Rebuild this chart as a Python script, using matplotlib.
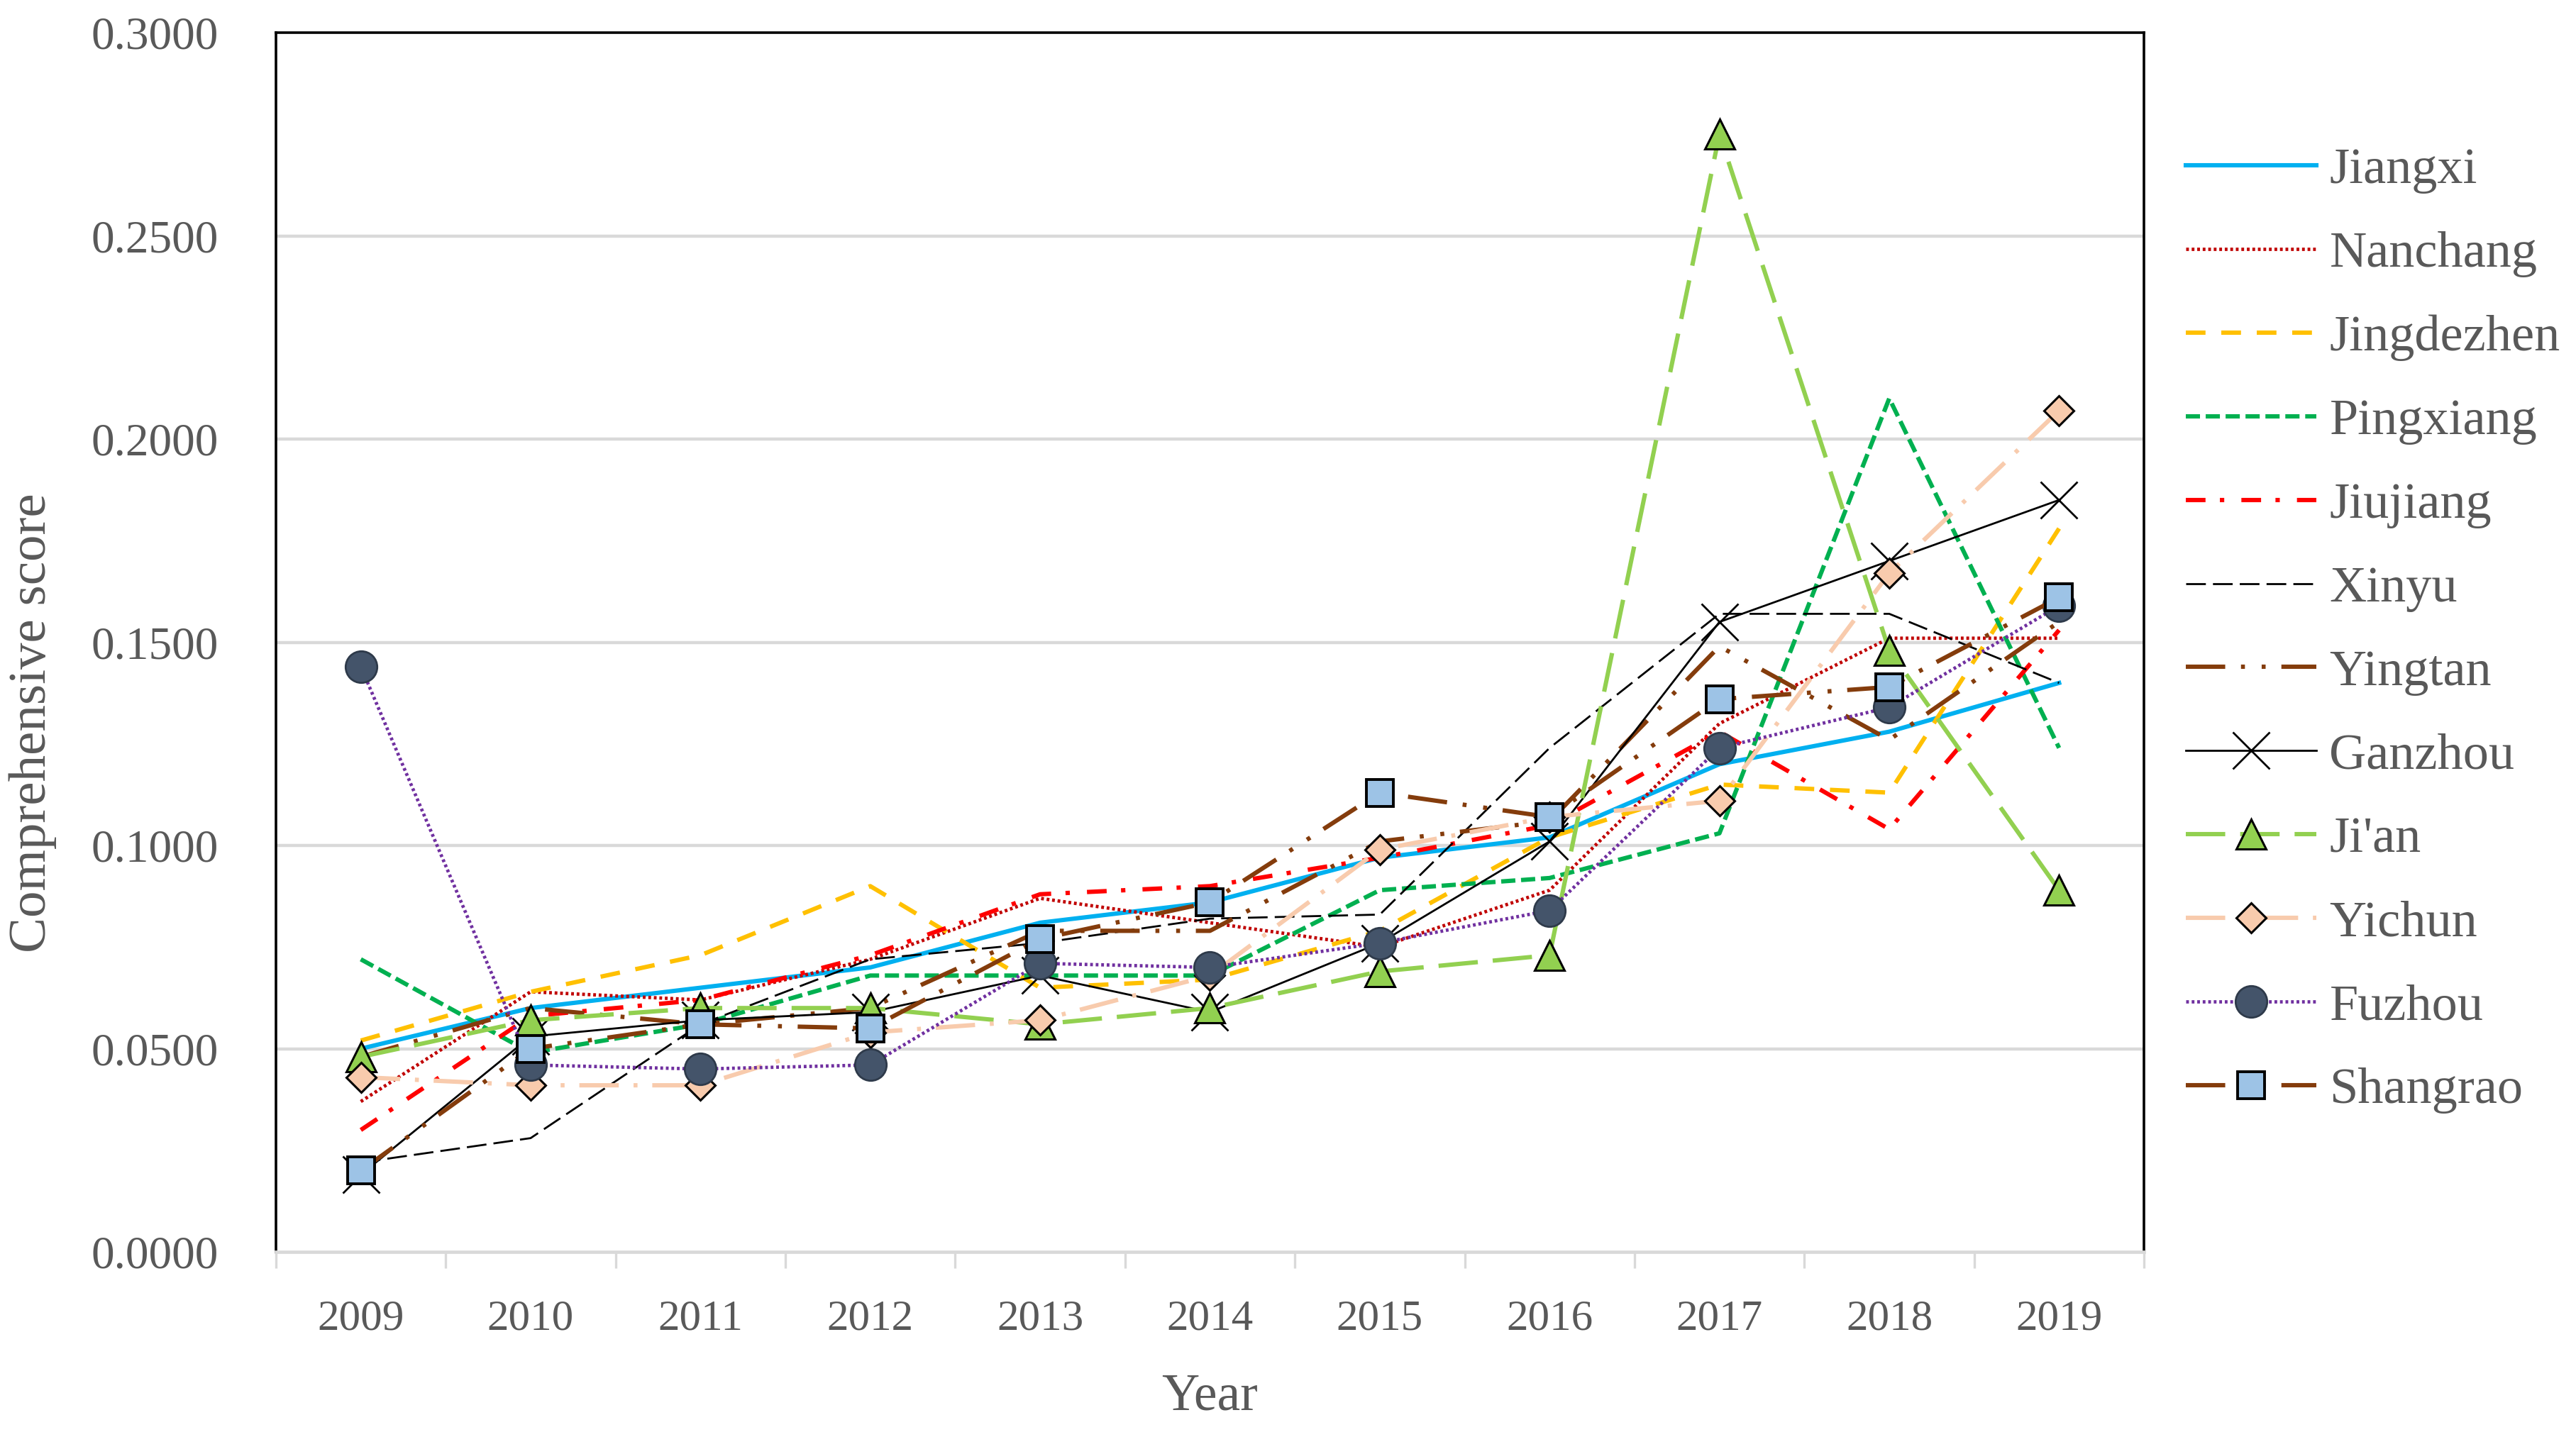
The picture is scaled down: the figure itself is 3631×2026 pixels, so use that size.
import numpy as np
import matplotlib
matplotlib.use('Agg')
import matplotlib.pyplot as plt

plt.rcParams.update({
    'font.family': ['Liberation Serif', 'DejaVu Serif'],
    'lines.scale_dashes': False,
})

years = ['2009', '2010', '2011', '2012', '2013', '2014', '2015', '2016', '2017', '2018', '2019']

jiangxi    = [0.050, 0.060, 0.065, 0.070, 0.081, 0.086, 0.097, 0.102, 0.120, 0.128, 0.140]
nanchang   = [0.037, 0.064, 0.062, 0.072, 0.087, 0.081, 0.075, 0.089, 0.130, 0.151, 0.151]
jingdezhen = [0.052, 0.064, 0.073, 0.090, 0.065, 0.067, 0.079, 0.102, 0.115, 0.113, 0.178]
pingxiang  = [0.072, 0.049, 0.056, 0.068, 0.068, 0.068, 0.089, 0.092, 0.103, 0.210, 0.124]
jiujiang   = [0.030, 0.058, 0.062, 0.073, 0.088, 0.090, 0.097, 0.105, 0.128, 0.104, 0.153]
xinyu      = [0.022, 0.028, 0.056, 0.072, 0.076, 0.082, 0.083, 0.124, 0.157, 0.157, 0.140]
yingtan    = [0.048, 0.060, 0.056, 0.060, 0.079, 0.079, 0.101, 0.106, 0.149, 0.126, 0.155]
ganzhou    = [0.019, 0.053, 0.057, 0.059, 0.068, 0.059, 0.076, 0.101, 0.155, 0.170, 0.185]
jian       = [0.048, 0.057, 0.060, 0.060, 0.056, 0.060, 0.069, 0.073, 0.275, 0.148, 0.089]
yichun     = [0.043, 0.041, 0.041, 0.054, 0.057, 0.068, 0.099, 0.107, 0.111, 0.167, 0.207]
fuzhou     = [0.144, 0.046, 0.045, 0.046, 0.071, 0.070, 0.076, 0.084, 0.124, 0.134, 0.159]
shangrao   = [0.020, 0.050, 0.056, 0.055, 0.077, 0.086, 0.113, 0.107, 0.136, 0.139, 0.161]

TXT = '#595959'
GRID = '#D9D9D9'

fig = plt.figure(figsize=(18.155, 10.13), dpi=200)
ax = fig.add_axes([0.1071, 0.1288, 0.7252, 0.8485])
x = np.arange(len(years))

# (label, values, color, lw, dashes, marker style)
series = [
    ('Jiangxi', jiangxi, '#00B0F0', 2.2, None, {}),
    ('Nanchang', nanchang, '#C00000', 1.7, (1.4, 1.4), {}),
    ('Jingdezhen', jingdezhen, '#FFC000', 2.2, (10, 8), {}),
    ('Pingxiang', pingxiang, '#00B050', 2.2, (7.2, 2.9), {}),
    ('Jiujiang', jiujiang, '#FF0000', 2.2, (10, 7.3, 2.2, 8.7), {}),
    ('Xinyu', xinyu, '#000000', 1.0, (10, 3.6), {}),
    ('Yingtan', yingtan, '#843C0C', 2.2, (20, 8, 2, 8.5, 2, 8), {}),
    ('Ganzhou', ganzhou, '#000000', 1.0, None,
     dict(marker='x', markersize=19, markeredgecolor='#000000', markeredgewidth=1.0)),
    ("Ji'an", jian, '#92D050', 2.2, (20, 7.6),
     dict(marker='^', markersize=15, markerfacecolor='#92D050', markeredgecolor='#000000', markeredgewidth=1.1)),
    ('Yichun', yichun, '#F8CBAD', 2.2, (20, 7.5, 2, 7.5),
     dict(marker='D', markersize=10.5, markerfacecolor='#F8CBAD', markeredgecolor='#000000', markeredgewidth=1.1)),
    ('Fuzhou', fuzhou, '#7030A0', 1.7, (1.4, 1.4),
     dict(marker='o', markersize=16, markerfacecolor='#44546A', markeredgecolor='#2E3A4A', markeredgewidth=1.0)),
    ('Shangrao', shangrao, '#843C0C', 2.2, (20, 8, 2, 8.5, 2, 8),
     dict(marker='s', markersize=14, markerfacecolor='#9DC3E6', markeredgecolor='#000000', markeredgewidth=1.4)),
]

for i, (lab, vals, col, lw, dsh, mk) in enumerate(series):
    ln, = ax.plot(x, vals, color=col, linewidth=lw, label=lab, zorder=3 + i * 0.1, **mk)
    if dsh is not None:
        ln.set_dashes(dsh)

ax.set_xlim(-0.5, len(years) - 0.5)
ax.set_ylim(0, 0.3)
yt = np.arange(0, 0.3001, 0.05)
ax.set_yticks(yt)
ax.set_yticklabels([f'{v:.4f}' for v in yt])
ax.set_xticks(x)
ax.set_xticklabels(years)
ax.set_xticks(np.arange(-0.5, len(years)), minor=True)
ax.tick_params(axis='x', which='major', length=0, pad=24, labelsize=22, labelcolor=TXT)
ax.tick_params(axis='x', which='minor', length=8.3, width=1.2, color=GRID, direction='out')
ax.tick_params(axis='y', length=0, pad=29, labelsize=23.5, labelcolor=TXT)

for v in yt[1:-1]:
    ax.axhline(v, color=GRID, linewidth=1.6, zorder=1)

for s in ['left', 'top', 'right']:
    ax.spines[s].set_color('#000000')
    ax.spines[s].set_linewidth(1.3)
ax.spines['bottom'].set_color(GRID)
ax.spines['bottom'].set_linewidth(1.7)

ax.set_xlabel('Year', fontsize=26.5, color=TXT, va='center')
ax.xaxis.set_label_coords(0.5, -0.119)
ax.set_ylabel('Comprehensive score', fontsize=27, color=TXT, va='center')
ax.yaxis.set_label_coords(-0.130, 0.434)

leg = fig.legend(loc='upper left', bbox_to_anchor=(0.8486, 0.8975), frameon=False,
                 fontsize=26, handlelength=2.55, handletextpad=0.25, labelspacing=0.725,
                 borderpad=0, borderaxespad=0, numpoints=1)
for t in leg.get_texts():
    t.set_color(TXT)

fig.savefig('out.png', dpi=200)
